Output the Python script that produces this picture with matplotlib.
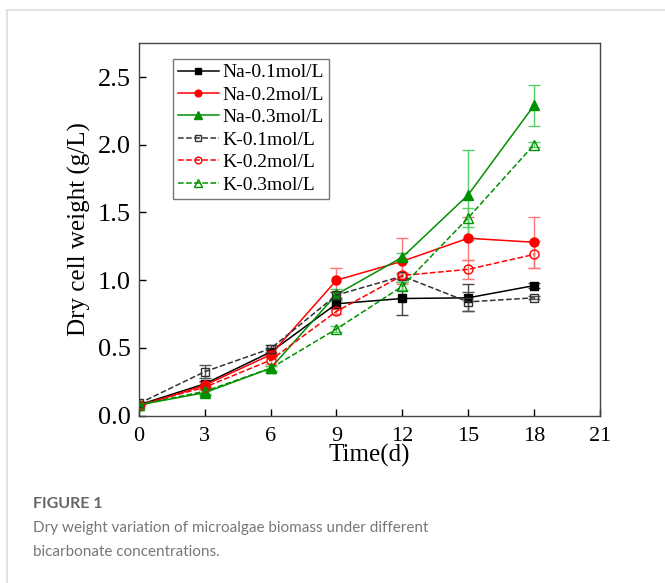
import matplotlib
matplotlib.use('Agg')
import matplotlib.pyplot as plt
from matplotlib.lines import Line2D
import numpy as np

# Sampling days
days = [0, 3, 6, 9, 12, 15, 18]

# Dry cell weight (g/L)
na_01 = [0.08, 0.235, 0.47, 0.826, 0.865, 0.87, 0.96]
na_02 = [0.07, 0.225, 0.45, 1.00, 1.14, 1.31, 1.28]
na_03 = [0.08, 0.17, 0.35, 0.895, 1.17, 1.63, 2.29]
k_01 = [0.09, 0.325, 0.495, 0.89, 1.03, 0.84, 0.87]
k_02 = [0.08, 0.21, 0.41, 0.77, 1.035, 1.08, 1.19]
k_03 = [0.08, 0.18, 0.35, 0.64, 0.955, 1.46, 2.00]

# Error bars (g/L)
na_01_err = [0.01, 0.02, 0.03, 0.03, 0.12, 0.10, 0.02]
na_02_err = [0.01, 0.02, 0.02, 0.09, 0.17, 0.16, 0.19]
na_03_err = [0.01, 0.02, 0.02, 0.04, 0.03, 0.33, 0.15]
k_01_err = [0.01, 0.05, 0.03, 0.02, 0.02, 0.07, 0.01]
k_02_err = [0.01, 0.02, 0.03, 0.02, 0.02, 0.07, 0.10]
k_03_err = [0.01, 0.02, 0.02, 0.02, 0.03, 0.07, 0.02]

labels = ['Na-0.1mol/L', 'Na-0.2mol/L', 'Na-0.3mol/L',
          'K-0.1mol/L', 'K-0.2mol/L', 'K-0.3mol/L']

serif = ['Liberation Serif', 'DejaVu Serif']

fig = plt.figure(figsize=(6.65, 5.83), dpi=100)

# card border like the journal page
fig.add_artist(Line2D([0.011, 1.0], [0.983, 0.983], color='#dddddd', lw=1.2))
fig.add_artist(Line2D([0.011, 0.011], [0.0, 0.983], color='#dddddd', lw=1.2))

ax = fig.add_axes([0.209, 0.287, 0.693, 0.639])

series = [
    (na_01, na_01_err, 'black', '#444444', 's', '-', 'black', 6),
    (na_02, na_02_err, 'red', '#ff7777', 'o', '-', 'red', 6.5),
    (na_03, na_03_err, '#009000', '#55cc66', '^', '-', '#009000', 7),
    (k_01, k_01_err, '#333333', '#555555', 's', '--', 'none', 6),
    (k_02, k_02_err, 'red', '#ff7777', 'o', '--', 'none', 6.5),
    (k_03, k_03_err, '#009000', '#55cc66', '^', '--', 'none', 7),
]

handles = []
for (vals, err, col, ecol, mk, ls, fc, ms), lab in zip(series, labels):
    ax.errorbar(days, vals, yerr=err, fmt='none', ecolor=ecol,
                elinewidth=1.0, capsize=4, capthick=1.0, zorder=2)
    h, = ax.plot(days, vals, color=col, linestyle=ls, linewidth=1.1,
                 marker=mk, markersize=ms, markerfacecolor=fc,
                 markeredgecolor=col, markeredgewidth=1.0,
                 label=lab, zorder=3)
    handles.append(h)

ax.set_xlim(0, 21)
ax.set_ylim(0, 2.75)
ax.set_xticks([0, 3, 6, 9, 12, 15, 18, 21])
ax.set_yticks([0.0, 0.5, 1.0, 1.5, 2.0, 2.5])
ax.set_yticklabels(['0.0', '0.5', '1.0', '1.5', '2.0', '2.5'])
ax.tick_params(direction='in', length=5, width=1)
ax.tick_params(axis='x', labelsize=16, pad=8)
ax.tick_params(axis='y', labelsize=19, pad=6)
for lbl in ax.get_xticklabels() + ax.get_yticklabels():
    lbl.set_family(serif)
for sp in ax.spines.values():
    sp.set_color('#444444')
    sp.set_linewidth(1.0)

ax.set_xlabel('Time(d)', family=serif, fontsize=18, labelpad=-1)
ax.set_ylabel('Dry cell weight (g/L)', family=serif, fontsize=18, labelpad=5)

leg = ax.legend(handles=handles, loc='upper left',
                bbox_to_anchor=(0.26, 0.899), bbox_transform=fig.transFigure,
                prop={'family': serif, 'size': 14}, frameon=True,
                fancybox=False, handlelength=2.1, handletextpad=0.2,
                labelspacing=0.25, borderpad=0.25, markerscale=0.75,
                borderaxespad=0)
leg.get_frame().set_edgecolor('#555555')
leg.get_frame().set_linewidth(1.0)

# caption
sans = ['Lato', 'Open Sans', 'DejaVu Sans']
fig.text(0.05, 0.136, 'FIGURE 1', family=sans, fontsize=11.5,
         fontweight='bold', color='#666666', va='center')
fig.text(0.05, 0.094, 'Dry weight variation of microalgae biomass under different',
         family=sans, fontsize=11, color='#777777', va='center')
fig.text(0.05, 0.053, 'bicarbonate concentrations.',
         family=sans, fontsize=11, color='#777777', va='center')

fig.savefig('out.png', dpi=100)
